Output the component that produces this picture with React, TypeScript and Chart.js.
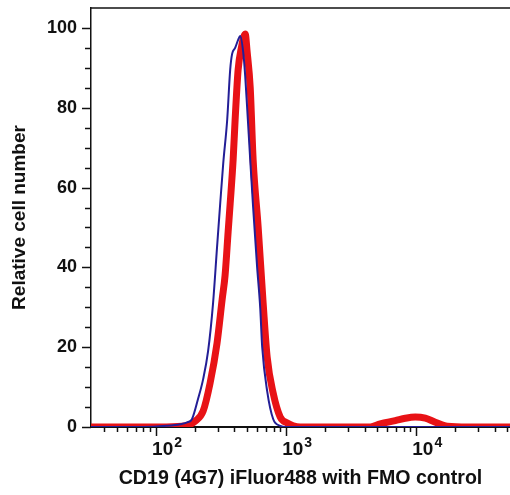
import React, { useEffect, useRef } from 'react';
import { Chart, registerables } from 'chart.js';

Chart.register(...registerables);

// ---- data (fluorescence intensity, relative cell number) ----
const fmoX = [31.6, 80, 120, 153, 175, 189, 210, 230, 251, 274, 294, 311, 328, 352, 371, 384, 405, 427, 443, 467, 484, 501, 529, 557, 598, 631, 654, 714, 794, 899, 1000, 2000, 5000, 10000, 20000, 52500];
const fmoY = [0, 0, 0.3, 0.7, 1.2, 2, 7, 12, 19, 31, 45, 56, 66, 77, 89.5, 93.5, 95, 97, 98, 94, 88, 80, 67, 55, 40, 30, 20, 9, 2, 0.3, 0, 0, 0, 0, 0, 0];

const cd19X = [31.6, 120, 170, 200, 230, 260, 294, 322, 339, 358, 371, 391, 405, 427, 452, 484, 501, 529, 557, 609, 665, 714, 794, 899, 1018, 1132, 1282, 2000, 4430, 5280, 6890, 8230, 9820, 11730, 14000, 17300, 25000, 52500];
const cd19Y = [0, 0, 0.3, 1.5, 4, 11, 21, 32, 38, 49, 56, 67, 77, 89.5, 95, 98.5, 94, 85, 67, 50, 31, 17.5, 8.5, 2.5, 1, 0.3, 0, 0, 0, 0.8, 1.6, 2.2, 2.5, 2.2, 1.2, 0.2, 0, 0];

const yTickValues = [0, 20, 40, 60, 80, 100];
const xTickValues = [100, 1000, 10000];
const xTickBase = '10';
const xTickExponents = ['2', '3', '4'];
const xAxisTitle = 'CD19 (4G7) iFluor488 with FMO control';
const yAxisTitle = 'Relative cell number';

const X_MIN = 31.6;
const X_MAX = 52500;
const Y_MIN = 0;
const Y_MAX = 105;

const FONT = "'Liberation Sans', Arial, Helvetica, sans-serif";

const axisDecor = {
  id: 'axisDecor',
  afterDraw(chart: any) {
    const { ctx, chartArea, scales } = chart;
    const xs = scales.x;
    const ys = scales.y;
    ctx.save();
    ctx.strokeStyle = '#111';
    ctx.lineWidth = 1.5;
    ctx.beginPath();
    ctx.moveTo(chartArea.left, chartArea.top);
    ctx.lineTo(chartArea.right, chartArea.top);
    ctx.stroke();
    // y ticks (major every 20, minor every 5)
    for (let v = 0; v <= 100; v += 5) {
      const py = Math.round(ys.getPixelForValue(v)) + 0.5;
      const len = v % 20 === 0 ? 9 : 6;
      ctx.beginPath();
      ctx.moveTo(chartArea.left - len, py);
      ctx.lineTo(chartArea.left, py);
      ctx.stroke();
    }
    // x ticks (log decades)
    for (let d = 1; d <= 4; d++) {
      for (let m = 1; m <= 9; m++) {
        const v = m * Math.pow(10, d);
        if (v < X_MIN || v > X_MAX) continue;
        const px = Math.round(xs.getPixelForValue(v)) + 0.5;
        const len = m === 1 ? 9 : 5;
        ctx.beginPath();
        ctx.moveTo(px, chartArea.bottom);
        ctx.lineTo(px, chartArea.bottom + len);
        ctx.stroke();
      }
    }
    // x tick labels: 10 with superscript exponent
    ctx.fillStyle = '#111';
    ctx.textBaseline = 'alphabetic';
    ctx.textAlign = 'left';
    xTickValues.forEach((v, i) => {
      const px = xs.getPixelForValue(v);
      ctx.font = `bold 19px ${FONT}`;
      const left = px - 4;
      ctx.fillText(xTickBase, left, chartArea.bottom + 28);
      const w = ctx.measureText(xTickBase).width;
      ctx.font = `bold 14px ${FONT}`;
      ctx.fillText(xTickExponents[i], left + w + 1, chartArea.bottom + 20);
    });
    ctx.restore();
  },
};

export default function App() {
  const ref = useRef<HTMLCanvasElement>(null);

  useEffect(() => {
    if (!ref.current) return;
    const chart = new Chart(ref.current, {
      type: 'line',
      data: {
        datasets: [
          {
            label: 'FMO control',
            data: fmoX.map((x, i) => ({ x, y: fmoY[i] })),
            borderColor: 'rgb(35, 30, 150)',
            borderWidth: 2,
            pointRadius: 0,
            cubicInterpolationMode: 'monotone',
            borderJoinStyle: 'round',
            borderCapStyle: 'round',
            fill: false,
          },
          {
            label: 'CD19 (4G7) iFluor488',
            data: cd19X.map((x, i) => ({ x, y: cd19Y[i] })),
            borderColor: 'rgb(232, 18, 22)',
            borderWidth: 7,
            pointRadius: 0,
            cubicInterpolationMode: 'monotone',
            borderJoinStyle: 'round',
            borderCapStyle: 'round',
            fill: false,
          },
        ],
      },
      options: {
        responsive: false,
        animation: false,
        layout: { padding: { top: 8, left: 0, right: 0, bottom: 0 } },
        plugins: {
          legend: { display: false },
          tooltip: { enabled: false },
        },
        scales: {
          x: {
            type: 'logarithmic',
            min: X_MIN,
            max: X_MAX,
            afterBuildTicks: (s: any) => {
              s.ticks = xTickValues.map((v) => ({ value: v }));
            },
            afterFit: (s: any) => {
              s.height = 68;
              s.paddingLeft = 0;
              s.paddingRight = 0;
            },
            grid: { display: false, drawTicks: false },
            border: { display: true, color: '#111', width: 2 },
            ticks: { display: false },
            title: {
              display: true,
              text: xAxisTitle,
              color: '#111',
              font: { family: FONT, size: 19.6, weight: 'bold' },
              padding: { top: 0, bottom: 5 },
            },
          },
          y: {
            type: 'linear',
            min: Y_MIN,
            max: Y_MAX,
            afterBuildTicks: (s: any) => {
              s.ticks = yTickValues.map((v) => ({ value: v }));
            },
            afterFit: (s: any) => {
              s.width = 91;
              s.paddingTop = 0;
              s.paddingBottom = 0;
            },
            grid: { display: false, drawTicks: false },
            border: { display: true, color: '#111', width: 1.5 },
            ticks: {
              padding: 14,
              color: '#111',
              font: { family: FONT, size: 18, weight: 'bold' },
            },
            title: {
              display: true,
              text: yAxisTitle,
              color: '#111',
              font: { family: FONT, size: 19, weight: 'bold' },
              padding: { top: 8, bottom: 0 },
            },
          },
        },
      },
      plugins: [axisDecor],
    } as any);
    return () => chart.destroy();
  }, []);

  return (
    <div style={{ position: 'fixed', left: 0, top: 0, width: 510, height: 495, background: '#fff' }}>
      <canvas ref={ref} width={510} height={495} style={{ display: 'block' }} />
    </div>
  );
}
